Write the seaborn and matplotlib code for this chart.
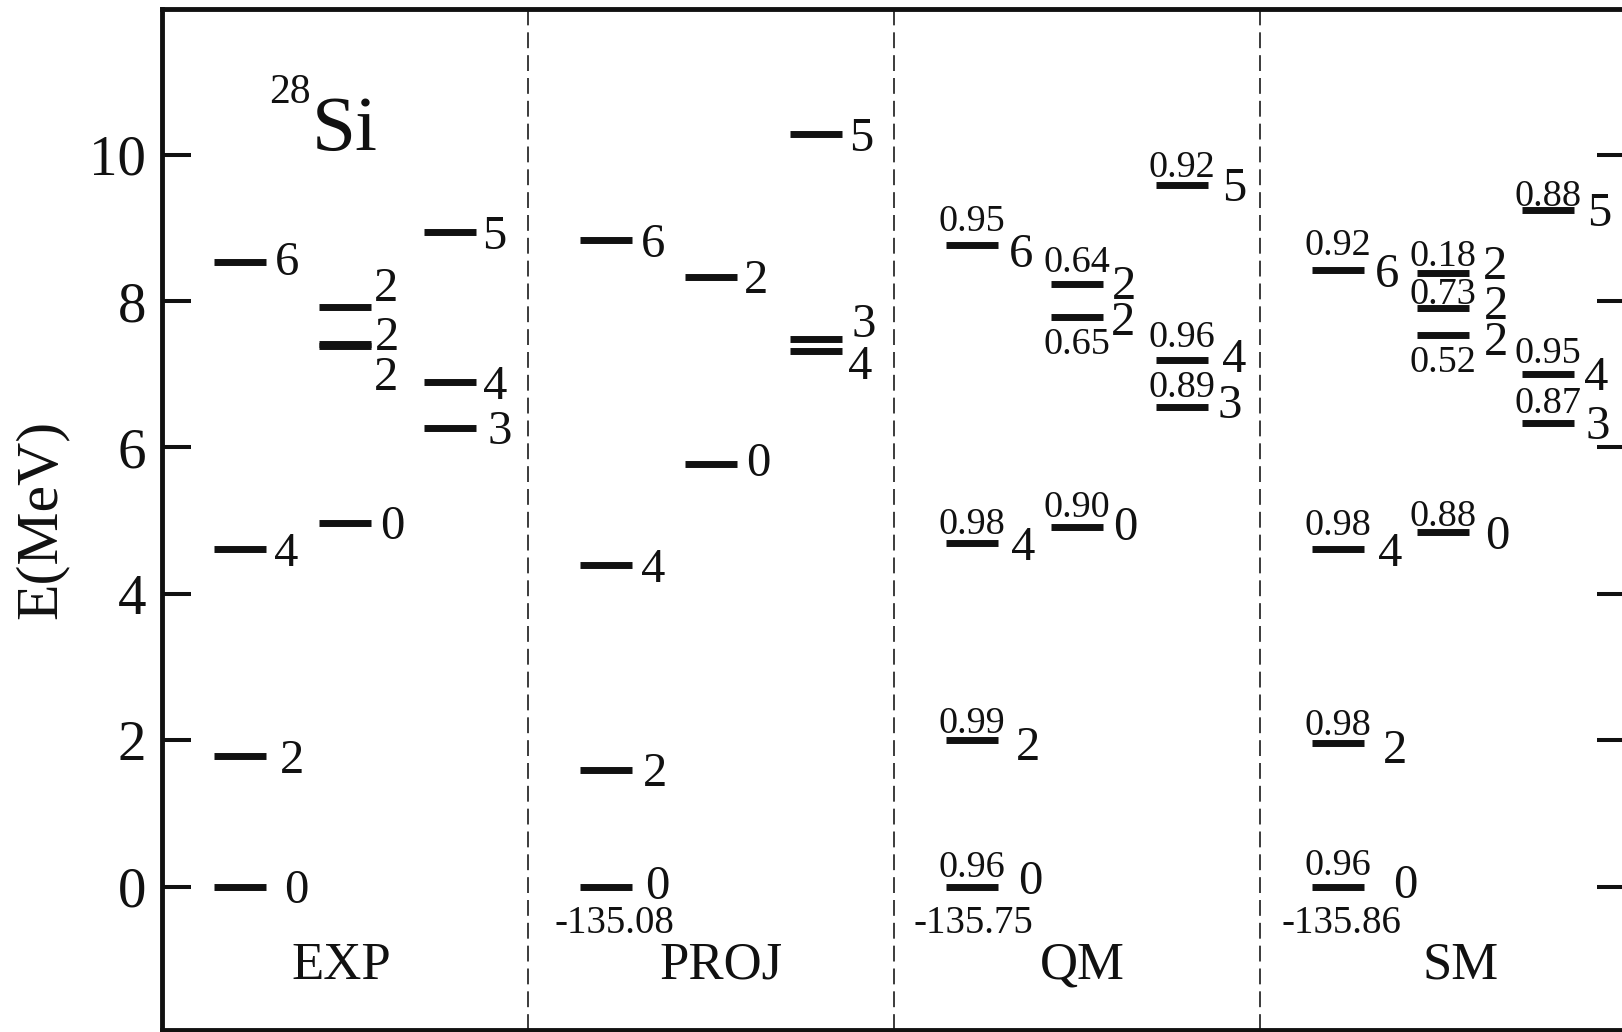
import matplotlib
matplotlib.use("Agg")
import matplotlib.pyplot as plt
import seaborn as sns
import pandas as pd

# ---------------- data ----------------
panels = ["EXP", "PROJ", "QM", "SM"]

exp_energy = [0.00, 1.78, 4.61, 8.53, 4.97, 7.38, 7.42, 7.92, 6.27, 6.89, 8.94]
exp_spin = [0, 2, 4, 6, 0, 2, 2, 2, 3, 4, 5]
exp_column = [0, 0, 0, 0, 1, 1, 1, 1, 2, 2, 2]

proj_energy = [0.00, 1.60, 4.39, 8.83, 5.78, 8.33, 7.32, 7.48, 10.28]
proj_spin = [0, 2, 4, 6, 0, 2, 4, 3, 5]
proj_column = [0, 0, 0, 0, 1, 1, 2, 2, 2]

qm_energy = [0.00, 2.00, 4.69, 8.76, 4.92, 7.78, 8.23, 6.55, 7.19, 9.59]
qm_spin = [0, 2, 4, 6, 0, 2, 2, 3, 4, 5]
qm_column = [0, 0, 0, 0, 1, 1, 1, 2, 2, 2]
qm_overlap = [0.96, 0.99, 0.98, 0.95, 0.90, 0.65, 0.64, 0.89, 0.96, 0.92]

sm_energy = [0.00, 1.97, 4.61, 8.42, 4.84, 7.54, 7.91, 8.39, 6.34, 7.01, 9.25]
sm_spin = [0, 2, 4, 6, 0, 2, 2, 2, 3, 4, 5]
sm_column = [0, 0, 0, 0, 1, 1, 1, 1, 2, 2, 2]
sm_overlap = [0.96, 0.98, 0.98, 0.92, 0.88, 0.52, 0.73, 0.18, 0.87, 0.95, 0.88]

ground_panels = ["PROJ", "QM", "SM"]
ground_energy = ["-135.08", "-135.75", "-135.86"]

y_ticks = [0, 2, 4, 6, 8, 10]
y_label = "E(MeV)"
nucleus_mass = "28"
nucleus_symbol = "Si"

# ---------------- layout (label placement only) ----------------
# spin-label vertical shift (MeV) and horizontal gap (px) after the bar end
exp_label_dy = [0, 0, 0, 0.05, 0, -0.37, 0.14, 0.30, 0, 0, 0]
exp_label_gap = [18, 14, 8, 9, 9, 3, 4, 3, 12, 7, 6]
proj_label_dy = [0.06, 0, 0, 0, 0.05, 0, -0.16, 0.26, 0]
proj_label_gap = [13, 11, 9, 9, 9, 7, 6, 10, 7]
qm_label_dy = [0.13, -0.04, 0, -0.07, 0.04, -0.02, 0.02, 0.08, 0.07, 0]
qm_label_gap = [20, 18, 13, 11, 10, 8, 9, 10, 14, 14]
sm_label_dy = [0.07, -0.05, 0, 0, 0, -0.05, 0.07, 0.14, 0, 0, 0]
sm_label_gap = [29, 19, 14, 11, 16, 15, 15, 14, 12, 10, 13]
# overlap-number baseline offset from bar (px, negative = below the bar)
qm_amp_dy = [10, 7, 9, 14, 10, -37, 12, 10, 13, 8]
sm_amp_dy = [12, 8, 14, 15, 6, -37, 4, 7, 10, 11, 4]

col_start = [0.144, 0.431, 0.717]
bar_width = 0.142
panel_label_x = [0.4915, 1.529, 2.515, 3.548]
ground_dx = [8, 1, 3]

# ---------------- build table ----------------
def frame(name, energy, spin, column, overlap=None, dy=None, gap=None, amp_dy=None):
    d = pd.DataFrame({"panel": name, "energy": energy, "spin": spin, "column": column,
                      "label_dy": dy, "label_gap": gap})
    d["overlap"] = overlap if overlap is not None else float("nan")
    d["amp_dy"] = amp_dy if amp_dy is not None else 0
    return d

levels = pd.concat([
    frame("EXP", exp_energy, exp_spin, exp_column, None, exp_label_dy, exp_label_gap),
    frame("PROJ", proj_energy, proj_spin, proj_column, None, proj_label_dy, proj_label_gap),
    frame("QM", qm_energy, qm_spin, qm_column, qm_overlap, qm_label_dy, qm_label_gap, qm_amp_dy),
    frame("SM", sm_energy, sm_spin, sm_column, sm_overlap, sm_label_dy, sm_label_gap, sm_amp_dy),
], ignore_index=True)
levels["x0"] = levels["panel"].map(panels.index) + levels["column"].map(lambda c: col_start[c])
levels["x1"] = levels["x0"] + bar_width
levels["xc"] = (levels["x0"] + levels["x1"]) / 2

# ---------------- style ----------------
sns.set_theme(style="white")
plt.rcParams["font.family"] = ["Liberation Serif", "DejaVu Serif"]
plt.rcParams["axes.linewidth"] = 3.5

W, H = 1622, 1032
fig = plt.figure(figsize=(W / 100, H / 100), dpi=100)
top_px, bot_px, left_px, panel_px = 9.0, 1030.2, 161.5, 366
ax = fig.add_axes([left_px / W, (H - bot_px) / H, 4 * panel_px / W, (bot_px - top_px) / H])
ax.set_xlim(0, 4)
ax.set_ylim(-1.96, 11.99)

for s in ax.spines.values():
    s.set_color("#111111")
    s.set_linewidth(3.5)

# separators
for xv in [1, 2, 3]:
    ax.axvline(xv, color="#1a1a1a", lw=1.2, dashes=(9.5, 4.2))

# levels
ax.hlines(levels["energy"], levels["x0"], levels["x1"], colors="#111111", lw=5.0,
          capstyle="butt")

spin_fs = 35
half_digit = spin_fs * 100 / 72 * 0.676 / 2
for _, r in levels.iterrows():
    ax.annotate(str(r["spin"]), xy=(r["x1"], r["energy"] + r["label_dy"]),
                xytext=(r["label_gap"], -half_digit), textcoords="offset pixels",
                ha="left", va="baseline", fontsize=spin_fs, color="#111111")
    if pd.notna(r["overlap"]):
        ax.annotate(f"{r['overlap']:.2f}", xy=(r["xc"], r["energy"]),
                    xytext=(0, r["amp_dy"]), textcoords="offset pixels",
                    ha="center", va="baseline", fontsize=27.5, color="#111111")

# ground-state absolute energies
for p, txt, dx in zip(ground_panels, ground_energy, ground_dx):
    g = levels[(levels["panel"] == p) & (levels["energy"] == 0)].iloc[0]
    ax.annotate(txt, xy=(g["xc"], 0), xytext=(dx, -46), textcoords="offset pixels",
                ha="center", va="baseline", fontsize=28, color="#111111")

# panel names
for name, xl in zip(panels, panel_label_x):
    ax.text(xl, -1.26, name, ha="center", va="baseline", fontsize=38, color="#111111")

# nucleus label
ax.text(0.410, 10.06, nucleus_symbol, ha="left", va="baseline", fontsize=57, color="#111111")
ax.text(0.407, 10.70, nucleus_mass, ha="right", va="baseline", fontsize=30, color="#111111")

# axes ticks
ax.set_xticks([])
ax.set_yticks(y_ticks)
ax.set_yticklabels([str(t) for t in y_ticks])
ax.tick_params(axis="y", which="both", direction="in", length=21, width=2.9,
               left=True, right=True, labelsize=41, pad=11, colors="#111111")
ax.set_ylabel(y_label, fontsize=43, labelpad=15, color="#111111")

fig.savefig("out.png", dpi=100)
